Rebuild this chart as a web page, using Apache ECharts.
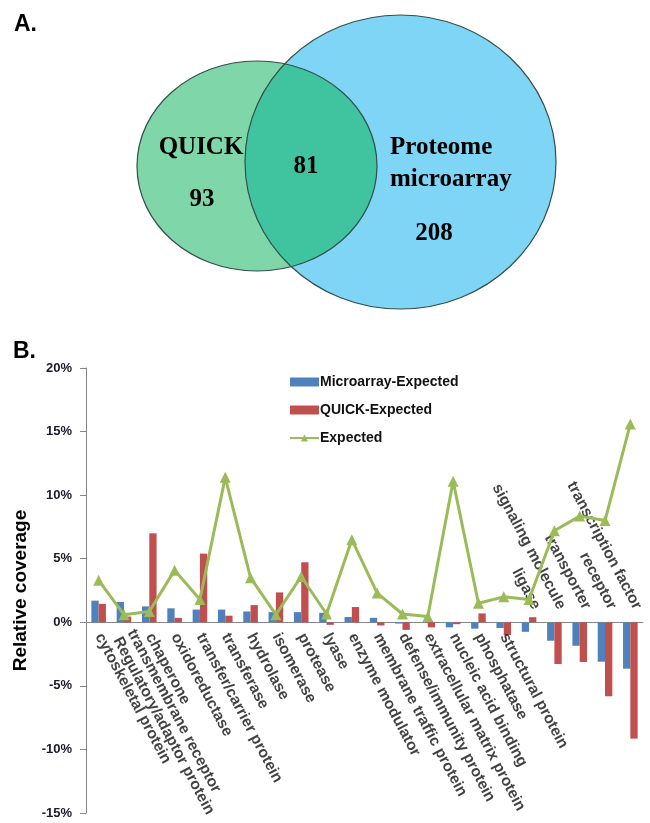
<!DOCTYPE html>
<html>
<head>
<meta charset="utf-8">
<script src="https://cdn.jsdelivr.net/npm/echarts@6/dist/echarts.min.js"></script>
<style>
  html, body { margin: 0; padding: 0; background: #fff; }
  #main { width: 650px; height: 823px; }
</style>
</head>
<body>
<div id="main"></div>
<script>
// panel A – Venn counts: QUICK only, overlap, proteome microarray only
const vennNames = ['QUICK', 'Proteome', 'microarray'];
const vennCounts = [93, 81, 208];

// panel B – relative coverage (%)
const categories = [
  'cytoskeletal protein',
  'transmembrane receptor\nRegulatory/adaptor protein',
  'chaperone',
  'oxidoreductase',
  'transfer/carrier protein',
  'transferase',
  'hydrolase',
  'isomerase',
  'protease',
  'lyase',
  'enzyme modulator',
  'membrane traffic protein',
  'defense/immunity protein',
  'extracellular matrix protein',
  'nucleic acid binding',
  'phosphatase',
  'structural protein',
  'ligase',
  'signaling molecule',
  'transporter',
  'receptor',
  'transcription factor'
];
const microarrayExpected = [1.7, 1.6, 1.25, 1.1, 1.0, 1.0, 0.85, 0.8, 0.8, 0.75, 0.42, 0.35, -0.1, 0, -0.4, -0.5, -0.45, -0.75, -1.45, -1.85, -3.1, -3.65];
const quickExpected = [1.45, 0.45, 7.0, 0.35, 5.4, 0.52, 1.35, 2.35, 4.72, -0.2, 1.2, -0.25, -0.6, -0.4, -0.15, 0.7, -1.0, 0.4, -3.28, -3.12, -5.82, -9.15];
const expected = [3.3, 0.6, 0.85, 4.1, 1.8, 11.4, 3.5, 0.6, 3.6, 0.65, 6.5, 2.3, 0.65, 0.45, 11.1, 1.5, 2.0, 1.8, 7.2, 8.35, 8.0, 15.6];
const yMin = -15, yMax = 20, yStep = 5;

// labels of the last few categories sit above the axis
const firstAbove = 17;

const chart = echarts.init(document.getElementById('main'));

// venn geometry
const green = { cx: 257, cy: 166, rx: 120, ry: 105 };
const blue = { cx: 400.5, cy: 162, rx: 155.5, ry: 147 };

function inside(e, x, y) {
  const dx = (x - e.cx) / e.rx, dy = (y - e.cy) / e.ry;
  return dx * dx + dy * dy <= 1;
}
// lens = right arc of green inside blue + left arc of blue inside green
function lens() {
  const pts = [];
  const n = 720;
  for (let i = 0; i <= n; i++) {
    const t = -Math.PI + (2 * Math.PI * i) / n;
    const x = green.cx + green.rx * Math.cos(t), y = green.cy + green.ry * Math.sin(t);
    if (inside(blue, x, y)) pts.push([x, y]);
  }
  for (let i = 0; i <= n; i++) {
    const t = (2 * Math.PI * i) / n;
    const x = blue.cx + blue.rx * Math.cos(t), y = blue.cy + blue.ry * Math.sin(t);
    if (inside(green, x, y)) pts.push([x, y]);
  }
  return pts;
}

const serif = 'bold 25px "Liberation Serif", "Times New Roman", serif';
const outline = '#33504a';

// category names are placed on the zero line (labels of an onZero axis
// end up at the grid bottom in this build)
const catLabel = {
  show: true,
  position: [0, 0],
  rotate: -62,
  verticalAlign: 'middle',
  fontSize: 15.5,
  fontWeight: 'bold',
  color: '#111',
  lineHeight: 16,
  formatter: p => categories[p.dataIndex]
};

const option = {
  backgroundColor: '#fff',
  animation: false,
  textStyle: { fontFamily: '"Liberation Sans", Arial, sans-serif' },
  graphic: [
    { type: 'text', left: 14, top: 13, style: { text: 'A.', font: 'bold 23px "Liberation Sans", Arial', fill: '#000' } },
    { type: 'text', left: 13, top: 340, style: { text: 'B.', font: 'bold 23px "Liberation Sans", Arial', fill: '#000' } },
    { type: 'ellipse', shape: blue, style: { fill: '#7fd5f5', stroke: null } },
    { type: 'ellipse', shape: green, style: { fill: '#7fd6a8', stroke: null } },
    { type: 'polygon', shape: { points: lens() }, style: { fill: '#40c4a0', stroke: null } },
    { type: 'ellipse', shape: blue, style: { fill: null, stroke: outline, lineWidth: 1.2 } },
    { type: 'ellipse', shape: green, style: { fill: null, stroke: outline, lineWidth: 1.2 } },
    { type: 'text', x: 201, y: 148, style: { text: vennNames[0], font: serif, fill: '#000', align: 'center', verticalAlign: 'middle' } },
    { type: 'text', x: 390, y: 148, style: { text: vennNames[1], font: serif, fill: '#000', align: 'left', verticalAlign: 'middle' } },
    { type: 'text', x: 390, y: 180, style: { text: vennNames[2], font: serif, fill: '#000', align: 'left', verticalAlign: 'middle' } },
    { type: 'text', x: 202, y: 200, style: { text: String(vennCounts[0]), font: serif, fill: '#000', align: 'center', verticalAlign: 'middle' } },
    { type: 'text', x: 306, y: 167, style: { text: String(vennCounts[1]), font: serif, fill: '#000', align: 'center', verticalAlign: 'middle' } },
    { type: 'text', x: 434, y: 234, style: { text: String(vennCounts[2]), font: serif, fill: '#000', align: 'center', verticalAlign: 'middle' } }
  ],
  legend: {
    orient: 'vertical',
    left: 289,
    top: 375,
    padding: 0,
    itemWidth: 29,
    itemHeight: 9,
    itemGap: 14,
    textStyle: { fontSize: 14, fontWeight: 'bold', color: '#111', padding: [0, 0, 0, -4] },
    data: [
      { name: 'Microarray-Expected', icon: 'rect' },
      { name: 'QUICK-Expected', icon: 'rect' },
      { name: 'Expected' }
    ]
  },
  grid: { left: 86, right: 7, top: 368, bottom: 10, containLabel: false, outerBoundsMode: 'none' },
  xAxis: {
    type: 'category',
    data: categories,
    axisLine: { onZero: true, lineStyle: { color: '#868686', width: 1 } },
    axisTick: { show: false },
    axisLabel: { show: false }
  },
  yAxis: {
    type: 'value',
    min: yMin,
    max: yMax,
    interval: yStep,
    name: 'Relative coverage',
    nameLocation: 'middle',
    nameRotate: 90,
    nameGap: 50,
    nameTextStyle: { fontSize: 19, fontWeight: 'bold', color: '#000' },
    axisLine: { show: true, lineStyle: { color: '#868686' } },
    axisTick: { show: true, length: 6, lineStyle: { color: '#868686' } },
    splitLine: { show: false },
    axisLabel: { margin: 14, fontSize: 13, fontWeight: 'bold', color: '#1a1a2e', formatter: '{value}%' }
  },
  series: [
    {
      name: 'Microarray-Expected',
      type: 'bar',
      data: microarrayExpected,
      barWidth: 7.3,
      barGap: '0%',
      itemStyle: { color: '#4f81bd' }
    },
    {
      name: 'QUICK-Expected',
      type: 'bar',
      data: quickExpected,
      barWidth: 7.3,
      barGap: '0%',
      itemStyle: { color: '#c0504d' }
    },
    {
      name: 'Expected',
      type: 'line',
      data: expected,
      symbol: 'triangle',
      symbolSize: 11,
      lineStyle: { color: '#9bbb59', width: 3 },
      itemStyle: { color: '#9bbb59' }
    },
    {
      name: 'labelsBelow',
      type: 'scatter',
      symbolSize: 0,
      silent: true,
      data: categories.map((c, i) => (i < firstAbove ? 0 : '-')),
      label: Object.assign({}, catLabel, { align: 'left', offset: [10.5, 5.5] })
    },
    {
      name: 'labelsAbove',
      type: 'scatter',
      symbolSize: 0,
      silent: true,
      data: categories.map((c, i) => (i >= firstAbove ? 0 : '-')),
      label: Object.assign({}, catLabel, { align: 'right', offset: [-9, -13] })
    }
  ]
};

chart.setOption(option);
</script>
</body>
</html>
